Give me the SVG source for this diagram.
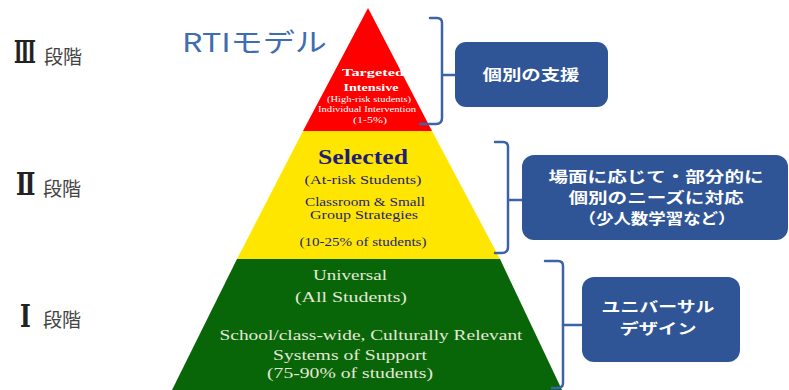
<svg xmlns="http://www.w3.org/2000/svg" width="789" height="390" viewBox="0 0 789 390">
<style>
.lvl{font-family:"DejaVu Serif","Liberation Serif","Noto Sans CJK JP",serif;font-size:23px;font-weight:bold;fill:#222}
.dan{font-family:"Noto Sans CJK JP",sans-serif;font-size:19px;fill:#444}
.box{fill:#2F5597}
.bt{font-family:"Noto Sans CJK JP",sans-serif;font-weight:bold;font-size:14.5px;fill:#fff;text-anchor:middle}
.brace{fill:none;stroke:#3C63A6;stroke-width:2.5;stroke-linejoin:round;stroke-linecap:round}
.ser{font-family:"Liberation Serif",serif;text-anchor:middle}
.red{fill:#fff}
.yel{fill:#1E1E78}
.grn{fill:#E6E8D8}
</style>
<rect width="789" height="390" fill="#fff"/>
<g id="title"><text x="182" y="52" font-family="'Noto Sans CJK JP',sans-serif" font-size="26" fill="#3F6DB2" textLength="145" lengthAdjust="spacingAndGlyphs">RTIモデル</text></g>
<g id="labels">
<g id="label3"><text class="lvl" transform="translate(14,63) scale(0.78,1.35)">Ⅲ</text><text class="dan" x="44" y="64">段階</text></g>
<g id="label2"><text class="lvl" transform="translate(16,195) scale(1,1.35)">Ⅱ</text><text class="dan" x="43" y="196">段階</text></g>
<g id="label1"><text class="lvl" transform="translate(20,327) scale(1,1.35)">Ⅰ</text><text class="dan" x="43" y="327">段階</text></g>
</g>
<g id="tier3">
<polygon points="368,8 432,131 303,131" fill="#FF0000"/>
<text class="ser red" font-weight="bold" font-size="11" x="373" y="76" textLength="62" lengthAdjust="spacingAndGlyphs">Targeted</text>
<text class="ser red" font-weight="bold" font-size="11" x="371" y="91" textLength="55" lengthAdjust="spacingAndGlyphs">Intensive</text>
<text class="ser red" font-size="8" x="369" y="102" textLength="84" lengthAdjust="spacingAndGlyphs">(High-risk students)</text>
<text class="ser red" font-size="8" x="367" y="112" textLength="98" lengthAdjust="spacingAndGlyphs">Individual Intervention</text>
<text class="ser red" font-size="8" x="370" y="123" textLength="34" lengthAdjust="spacingAndGlyphs">(1-5%)</text>
</g>
<g id="tier2">
<polygon points="303,131 432,131 500,259 237,259" fill="#FFE600"/>
<text class="ser yel" font-weight="bold" font-size="20" x="363" y="164" textLength="90" lengthAdjust="spacingAndGlyphs">Selected</text>
<text class="ser yel" font-size="12" x="363" y="184" textLength="117" lengthAdjust="spacingAndGlyphs">(At-risk Students)</text>
<text class="ser yel" font-size="12" x="365" y="206" textLength="120" lengthAdjust="spacingAndGlyphs">Classroom &amp; Small</text>
<text class="ser yel" font-size="12" x="364" y="219" textLength="108" lengthAdjust="spacingAndGlyphs">Group Strategies</text>
<text class="ser yel" font-size="12" x="363" y="246" textLength="127" lengthAdjust="spacingAndGlyphs">(10-25% of students)</text>
</g>
<g id="tier1">
<polygon points="237,259 500,259 562,390 172,390" fill="#086608"/>
<text class="ser grn" font-size="15" x="350" y="280" textLength="74" lengthAdjust="spacingAndGlyphs">Universal</text>
<text class="ser grn" font-size="15" x="351" y="302" textLength="112" lengthAdjust="spacingAndGlyphs">(All Students)</text>
<text class="ser grn" font-size="15" x="371" y="340" textLength="303" lengthAdjust="spacingAndGlyphs">School/class-wide, Culturally Relevant</text>
<text class="ser grn" font-size="15" x="350" y="360" textLength="154" lengthAdjust="spacingAndGlyphs">Systems of Support</text>
<text class="ser grn" font-size="15" x="350" y="378" textLength="166" lengthAdjust="spacingAndGlyphs">(75-90% of students)</text>
</g>
<g id="connectors">
<path class="brace" d="M430,18 L437,18 Q442,18 442,23 L442,75 L455,75 M442,75 L442,118 Q442,124 436,124 L420,124"/>
<path class="brace" d="M495,142 L503,142 Q508,142 508,147 L508,200 L522,200 M508,200 L508,247 Q508,253 502,253 L495,253"/>
<path class="brace" d="M545,261 L558,261 Q563,261 563,266 L563,325 L582,325 M563,325 L563,383 Q563,388 557,388 L552,388"/>
</g>
<g id="box3">
<rect class="box" x="455" y="42" width="153" height="65" rx="11"/>
<text class="bt" x="531" y="80" textLength="97" lengthAdjust="spacingAndGlyphs">個別の支援</text>
</g>
<g id="box2">
<rect class="box" x="522" y="155" width="266" height="85" rx="12"/>
<text class="bt" x="656" y="182" textLength="215" lengthAdjust="spacingAndGlyphs">場面に応じて・部分的に</text>
<text class="bt" x="656" y="203" textLength="175" lengthAdjust="spacingAndGlyphs">個別のニーズに対応</text>
<text class="bt" x="657" y="224" textLength="157" lengthAdjust="spacingAndGlyphs">（少人数学習など）</text>
</g>
<g id="box1">
<rect class="box" x="582" y="277" width="158" height="85" rx="12"/>
<text class="bt" x="658" y="312" textLength="113" lengthAdjust="spacingAndGlyphs">ユニバーサル</text>
<text class="bt" x="658" y="334" textLength="77" lengthAdjust="spacingAndGlyphs">デザイン</text>
</g>
</svg>
